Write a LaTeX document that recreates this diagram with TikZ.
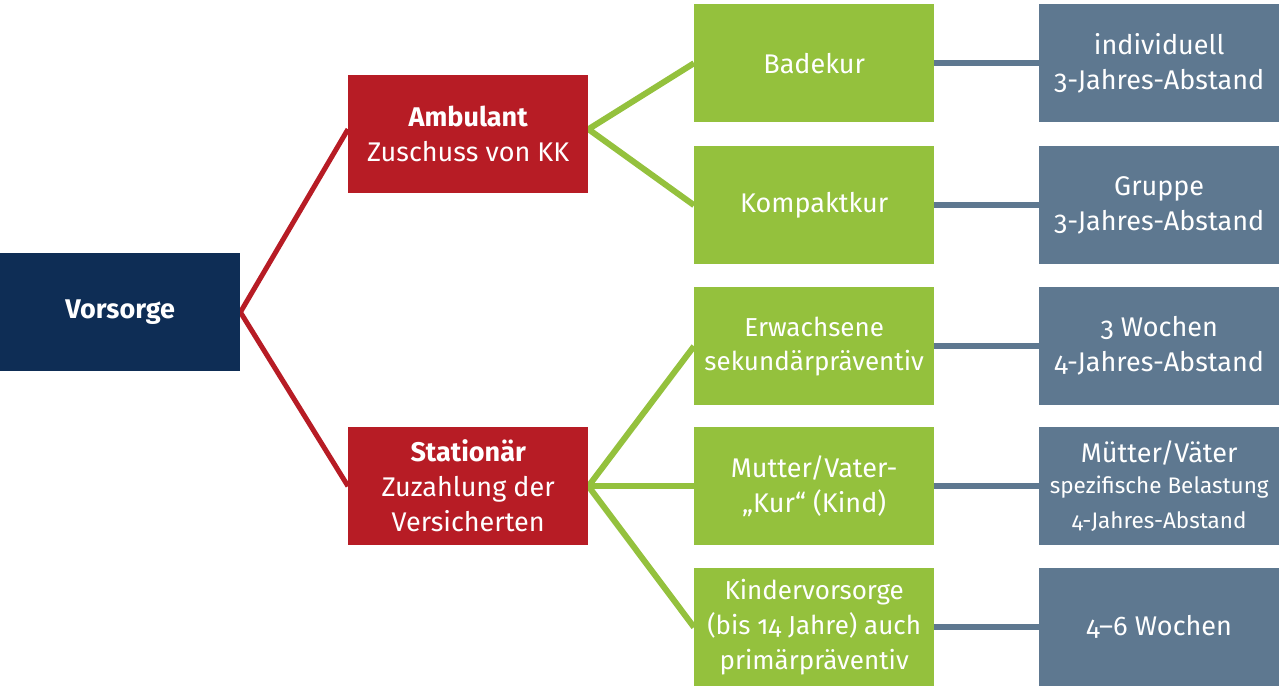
\documentclass[tikz,border=0pt]{standalone}
\usepackage{fontspec}
\setmainfont{Fira Sans}[Numbers=OldStyle]
\usetikzlibrary{backgrounds}
\definecolor{navy}{HTML}{0E2D55}
\definecolor{kred}{HTML}{B71C25}
\definecolor{kgreen}{HTML}{94C13D}
\definecolor{kgrey}{HTML}{5E7890}
\newcommand{\smallfs}{\fontsize{22.5}{30}\selectfont}
\begin{document}
\begin{tikzpicture}[x=1pt,y=-1pt,
  box/.style={anchor=north west,minimum width=240pt,minimum height=118pt,inner sep=0pt,
    text=white,align=center,font=\fontsize{27}{35}\selectfont},
  navybox/.style={box,fill=navy},
  redbox/.style={box,fill=kred},
  greenbox/.style={box,fill=kgreen},
  greybox/.style={box,fill=kgrey},
  redline/.style={draw=kred,line width=5pt},
  greenline/.style={draw=kgreen,line width=6pt},
  greyline/.style={draw=kgrey,line width=6pt}]
\useasboundingbox (0,0) rectangle (1280,692);
\node[navybox] (vor) at (0,253) {\bfseries Vorsorge};
\node[redbox] (amb) at (348,75) {\bfseries Ambulant\\Zuschuss von KK};
\node[redbox] (sta) at (348,427) {\bfseries Stationär\\Zuzahlung der\\Versicherten};
\node[greenbox] (bad) at (694,4) {Badekur};
\node[greenbox] (kom) at (694,146) {Kompaktkur};
\node[greenbox,font=\fontsize{26}{34}\selectfont] (erw) at (694,287) {Erwachsene\\sekundärpräventiv};
\node[greenbox] (mut) at (694,427) {Mutter/Vater-\\„Kur“ (Kind)};
\node[greenbox,font=\fontsize{26}{35}\selectfont] (kin) at (694,568) {Kindervorsorge\\(bis 14 Jahre) auch\\primärpräventiv};
\node[greybox] (g1) at (1039,4) {individuell\\3-Jahres-Abstand};
\node[greybox] (g2) at (1039,146) {Gruppe\\3-Jahres-Abstand};
\node[greybox] (g3) at (1039,287) {3 Wochen\\4-Jahres-Abstand};
\node[greybox] (g4) at (1039,427) {Mütter/Väter\\[-4pt]\smallfs spezifische Belastung\\\smallfs 4-Jahres-Abstand};
\node[greybox] (g5) at (1039,568) {4–6 Wochen};
\begin{scope}[on background layer]
\path[redline] ([yshift=5pt]amb.west) -- (vor.east) -- (sta.west);
\path[greenline] (bad.west) -- ([yshift=5pt]amb.east) -- (kom.west);
\path[greenline] (erw.west) -- (sta.east) -- (kin.west);
\path[greenline] (sta.east) -- (mut.west);
\path[greyline] (bad.east) -- (g1.west);
\path[greyline] (kom.east) -- (g2.west);
\path[greyline] (erw.east) -- (g3.west);
\path[greyline] (mut.east) -- (g4.west);
\path[greyline] (kin.east) -- (g5.west);
\end{scope}
\end{tikzpicture}
\end{document}
